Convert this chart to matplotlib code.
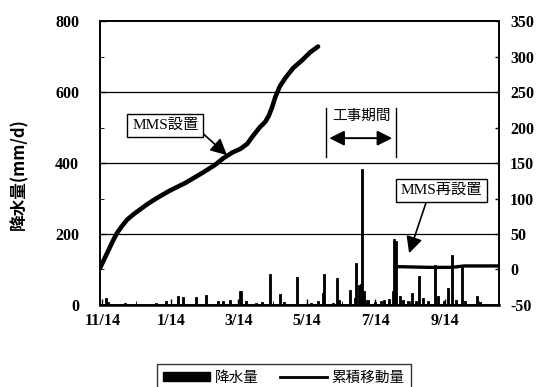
import matplotlib
matplotlib.use("Agg")
import matplotlib.pyplot as plt
import matplotlib.dates as mdates
import numpy as np
import pandas as pd
from matplotlib.lines import Line2D
from matplotlib.patches import Patch

plt.rcParams["axes.unicode_minus"] = False

SERIF = ["Liberation Serif", "Noto Sans CJK JP"]
CJK = ["Noto Sans CJK JP", "DejaVu Sans"]

# daily rainfall events (mm/d); days not listed had no rain
rain_dates = [
    "2003-11-17", "2003-11-19", "2003-11-30", "2003-12-04", "2004-01-01",
    "2004-01-10", "2004-01-20", "2004-01-25", "2004-02-05", "2004-02-14",
    "2004-02-25", "2004-02-29", "2004-03-07", "2004-03-16", "2004-03-21",
    "2004-03-30", "2004-04-04", "2004-04-11", "2004-04-20", "2004-04-24",
    "2004-05-05", "2004-05-18", "2004-05-24", "2004-05-28", "2004-05-29",
    "2004-06-06", "2004-06-10", "2004-06-12", "2004-06-21", "2004-06-26",
    "2004-06-27", "2004-06-29", "2004-07-01", "2004-07-02", "2004-07-04",
    "2004-07-07", "2004-07-14", "2004-07-19", "2004-07-22", "2004-07-26",
    "2004-07-30", "2004-07-31", "2004-08-01", "2004-08-05", "2004-08-08",
    "2004-08-12", "2004-08-16", "2004-08-19", "2004-08-22", "2004-08-25",
    "2004-08-30", "2004-09-05", "2004-09-08", "2004-09-13", "2004-09-17",
    "2004-09-20", "2004-09-24", "2004-09-29", "2004-10-02", "2004-10-12",
    "2004-10-15", "2004-10-24",
]
rain_mm = [
    20, 8, 4, 5, 5,
    12, 25, 22, 22, 27,
    10, 12, 14, 40, 12,
    7, 8, 88, 30, 8,
    78, 5, 10, 35, 87,
    6, 77, 15, 42, 20,
    118, 55, 60, 383, 40,
    15, 8, 10, 15, 18,
    40, 186, 180, 25, 15,
    12, 34, 10, 82, 20,
    10, 112, 25, 12, 48,
    140, 15, 110, 10, 25,
    8, 4,
]

# cumulative movement, first gauge (mm)
move1_dates = [
    "2003-11-12", "2003-11-15", "2003-11-18", "2003-11-21", "2003-11-24",
    "2003-11-27", "2003-12-01", "2003-12-06", "2003-12-12", "2003-12-18",
    "2003-12-25", "2004-01-02", "2004-01-13", "2004-01-27", "2004-02-12",
    "2004-02-22", "2004-03-01", "2004-03-09", "2004-03-16", "2004-03-22",
    "2004-03-27", "2004-04-02", "2004-04-07", "2004-04-10", "2004-04-13",
    "2004-04-16", "2004-04-20", "2004-04-25", "2004-05-02", "2004-05-10",
    "2004-05-17", "2004-05-24",
]
move1_mm = [
    2, 12, 22, 32, 42,
    51, 60, 70, 78, 85,
    93, 101, 111, 122, 137,
    147, 157, 165, 170, 177,
    188, 200, 208, 216, 228,
    243, 258, 270, 284, 295,
    306, 314,
]

# cumulative movement after the gauge was reinstalled (mm)
move2_dates = ["2004-08-03", "2004-09-01", "2004-09-20", "2004-10-01", "2004-11-01"]
move2_mm = [4, 3, 3, 5, 5]

xtick_dates = ["2003-11-14", "2004-01-14", "2004-03-14", "2004-05-14",
               "2004-07-14", "2004-09-14"]
xtick_labels = ["11/14", "1/14", "3/14", "5/14", "7/14", "9/14"]

rain_t = pd.to_datetime(rain_dates)
m1_t = pd.to_datetime(move1_dates)
m2_t = pd.to_datetime(move2_dates)

fig = plt.figure(figsize=(5.48, 3.87), dpi=100)
ax = fig.add_axes([0.1825, 0.2119, 0.7281, 0.7338])
ax2 = ax.twinx()

# rainfall bars on the left axis
ax.bar(rain_t, rain_mm, width=1.8, color="black", edgecolor="black",
       linewidth=0.6, zorder=3)
ax.set_ylim(0, 800)
ax.set_yticks([0, 200, 400, 600, 800])
ax.set_yticks([100, 300, 500, 700], minor=True)
ax.set_xlim(pd.Timestamp("2003-11-12"), pd.Timestamp("2004-11-01"))
ax.set_xticks(pd.to_datetime(xtick_dates))
ax.set_xticklabels(xtick_labels)
ax.xaxis.set_minor_locator(mdates.MonthLocator(bymonthday=14))
for y in (200, 400, 600):
    ax.axhline(y, color="black", lw=0.9, zorder=1)

ax.tick_params(axis="y", which="major", direction="in", length=4,
               width=1, pad=15)
ax.tick_params(axis="x", which="major", direction="in", length=4,
               width=1, pad=6)
ax.tick_params(axis="both", which="minor", direction="in", length=3)
for lab in ax.get_yticklabels() + ax.get_xticklabels():
    lab.set_family(SERIF)
    lab.set_fontsize(11.5)
    lab.set_fontweight("bold")

fig.text(0.035, 0.55, "降水量(mm/d)", rotation=90, ha="center", va="center",
         family=CJK, fontsize=12, fontweight="bold")

# cumulative movement on the right axis
ax2.plot(m1_t, move1_mm, color="black", lw=3.3, solid_capstyle="round",
         solid_joinstyle="round", zorder=4)
ax2.plot(m2_t, move2_mm, color="black", lw=2.4, zorder=4)
ax2.set_ylim(-50, 350)
ax2.set_yticks(np.arange(-50, 351, 50))
ax2.tick_params(axis="y", direction="in", length=3, width=1, pad=8)
for lab in ax2.get_yticklabels():
    lab.set_family(SERIF)
    lab.set_fontsize(11.5)
    lab.set_fontweight("bold")

for a in (ax, ax2):
    for sp in a.spines.values():
        sp.set_linewidth(1.2)
        sp.set_color("black")
ax.spines["bottom"].set_linewidth(1.8)

arrow = dict(arrowstyle="-|>,head_length=0.9,head_width=0.45", color="black",
             lw=1.2, shrinkA=0, shrinkB=0)
box = dict(boxstyle="square,pad=0.3", fc="white", ec="black", lw=1)

ax2.annotate("MMS設置", xy=(pd.Timestamp("2004-03-04"), 161),
             xytext=(pd.Timestamp("2004-01-09"), 203), ha="center", va="center",
             family=SERIF, fontsize=11, bbox=box,
             arrowprops=dict(arrow, relpos=(1, 0.2)), zorder=6)
ax2.annotate("MMS再設置", xy=(pd.Timestamp("2004-08-13"), 23),
             xytext=(pd.Timestamp("2004-09-11"), 111), ha="center", va="center",
             family=SERIF, fontsize=11, bbox=box,
             arrowprops=dict(arrow, relpos=(0.33, 0)), zorder=6)

# construction period marker
for d in ("2004-05-31", "2004-08-01"):
    ax2.plot([pd.Timestamp(d)] * 2, [158, 228], color="black", lw=1, zorder=5)
ax2.annotate("", xy=(pd.Timestamp("2004-07-29"), 185),
             xytext=(pd.Timestamp("2004-06-03"), 185),
             arrowprops=dict(arrowstyle="<|-|>,head_length=0.9,head_width=0.45",
                             color="black", lw=1.4, shrinkA=0, shrinkB=0))
ax2.text(pd.Timestamp("2004-07-02"), 216, "工事期間", ha="center", va="center",
         family=CJK, fontsize=10.5)

handles = [Patch(facecolor="black", edgecolor="black"),
           Line2D([], [], color="black", lw=2)]
leg = fig.legend(handles, ["降水量", "累積移動量"], loc="upper center",
                 bbox_to_anchor=(0.518, 0.078), ncol=2, frameon=True,
                 fancybox=False, edgecolor="black", handlelength=3.2,
                 handleheight=0.6, handletextpad=0.3, columnspacing=1.5,
                 borderpad=0.45, prop={"family": CJK, "size": 10.5})
leg.get_frame().set_linewidth(1)

fig.savefig("out.png", dpi=100)
